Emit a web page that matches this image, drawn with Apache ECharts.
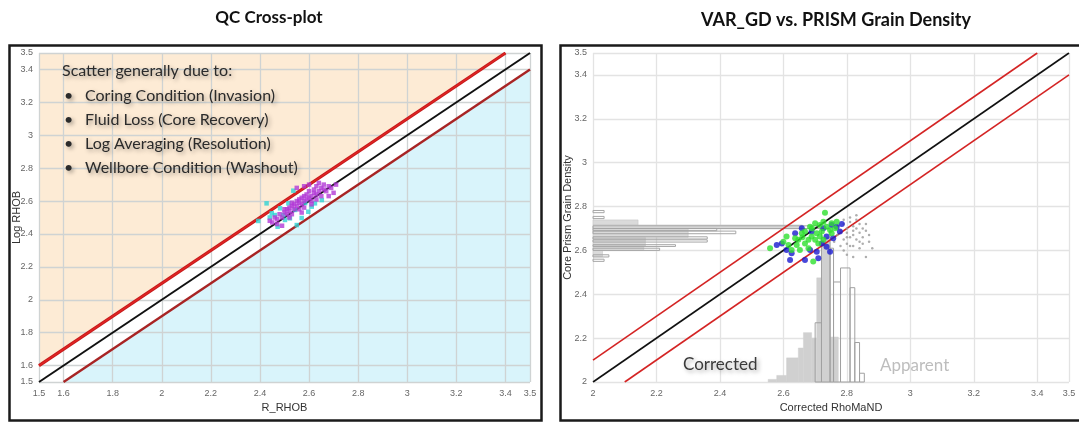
<!DOCTYPE html>
<html>
<head>
<meta charset="utf-8">
<script src="https://cdn.jsdelivr.net/npm/echarts@6/dist/echarts.min.js"></script>
<style>
html,body{margin:0;padding:0;background:#fff;}
#c{width:1079px;height:422px;}
</style>
</head>
<body>
<div id="c"></div>
<script>
// ---------- tick labels ----------
const leftTicks = [1.5, 1.6, 1.8, 2, 2.2, 2.4, 2.6, 2.8, 3, 3.2, 3.4, 3.5];
const rightTicks = [2, 2.2, 2.4, 2.6, 2.8, 3, 3.2, 3.4, 3.5];

// ---------- left panel: QC cross-plot ----------
const leftOneToOne = [[1.5, 1.5], [3.5, 3.5]];
const leftUpper = [[1.5, 1.6], [3.4, 3.5]];
const leftLower = [[1.6, 1.5], [3.5, 3.4]];
const peachZone = [[1.5, 1.6], [3.4, 3.5], [1.5, 3.5]];
const blueZone = [[1.6, 1.5], [3.5, 3.4], [3.5, 1.5]];

const cyanPts = [
  [2.427, 2.586], [2.536, 2.663], [2.393, 2.479], [2.472, 2.444], [2.584, 2.588],
  [2.624, 2.586], [2.652, 2.606], [2.522, 2.495], [2.57, 2.497], [2.495, 2.515],
  [2.461, 2.515], [2.55, 2.454], [2.482, 2.556], [2.516, 2.586], [2.543, 2.546],
  [2.448, 2.526], [2.597, 2.535], [2.502, 2.485], [2.611, 2.566], [2.44, 2.50]
];
const magentaPts = [
  [2.45, 2.47], [2.47, 2.49], [2.48, 2.52], [2.49, 2.50], [2.50, 2.53], [2.50, 2.55],
  [2.51, 2.52], [2.52, 2.56], [2.52, 2.54], [2.53, 2.57], [2.53, 2.52], [2.54, 2.58],
  [2.54, 2.55], [2.55, 2.60], [2.55, 2.57], [2.56, 2.59], [2.56, 2.61], [2.56, 2.55],
  [2.57, 2.62], [2.57, 2.58], [2.58, 2.60], [2.58, 2.63], [2.59, 2.61], [2.59, 2.64],
  [2.60, 2.62], [2.60, 2.66], [2.61, 2.63], [2.61, 2.60], [2.62, 2.65], [2.62, 2.67],
  [2.63, 2.64], [2.63, 2.69], [2.64, 2.66], [2.65, 2.68], [2.66, 2.70], [2.67, 2.66],
  [2.68, 2.69], [2.69, 2.68], [2.70, 2.65], [2.71, 2.70], [2.55, 2.68], [2.58, 2.69],
  [2.60, 2.70], [2.47, 2.46], [2.46, 2.50], [2.52, 2.50], [2.58, 2.56], [2.63, 2.61],
  [2.65, 2.63], [2.44, 2.48], [2.57, 2.53], [2.49, 2.45], [2.68, 2.63], [2.61, 2.58],
  [2.64, 2.71], [2.66, 2.67], [2.53, 2.59], [2.51, 2.55]
];

// ---------- right panel: VAR_GD vs PRISM ----------
const rightOneToOne = [[2, 2], [3.5, 3.5]];
const rightUpper = [[2, 2.1], [3.4, 3.5]];
const rightLower = [[2.1, 2], [3.5, 3.4]];

const greenPts = [
  [2.731, 2.772], [2.558, 2.610], [2.610, 2.663], [2.647, 2.648], [2.668, 2.686],
  [2.684, 2.708], [2.700, 2.724], [2.715, 2.716], [2.726, 2.731], [2.736, 2.708],
  [2.747, 2.693], [2.763, 2.701], [2.689, 2.663], [2.668, 2.632], [2.679, 2.610],
  [2.705, 2.678], [2.721, 2.686], [2.694, 2.549], [2.658, 2.678], [2.642, 2.625],
  [2.616, 2.625], [2.710, 2.632], [2.726, 2.648], [2.752, 2.724], [2.768, 2.731],
  [2.626, 2.602], [2.652, 2.602], [2.679, 2.648], [2.700, 2.648], [2.715, 2.663],
  [2.637, 2.655], [2.600, 2.640], [2.752, 2.678], [2.690, 2.700], [2.660, 2.660]
];
const bluePts = [
  [2.579, 2.625], [2.595, 2.632], [2.637, 2.678], [2.610, 2.602], [2.626, 2.587],
  [2.621, 2.556], [2.668, 2.556], [2.684, 2.602], [2.705, 2.594], [2.721, 2.632],
  [2.736, 2.663], [2.752, 2.716], [2.768, 2.708], [2.778, 2.686], [2.784, 2.720],
  [2.747, 2.594], [2.710, 2.564], [2.726, 2.701], [2.689, 2.686], [2.658, 2.701],
  [2.757, 2.655], [2.736, 2.617]
];
const grayPts = [
  [2.79, 2.72], [2.80, 2.70], [2.81, 2.73], [2.82, 2.71], [2.83, 2.74], [2.80, 2.68],
  [2.81, 2.66], [2.82, 2.69], [2.83, 2.70], [2.84, 2.72], [2.79, 2.65], [2.80, 2.63],
  [2.81, 2.62], [2.82, 2.67], [2.83, 2.65], [2.84, 2.68], [2.85, 2.70], [2.86, 2.69],
  [2.87, 2.64], [2.85, 2.66], [2.78, 2.69], [2.77, 2.67], [2.78, 2.62], [2.79, 2.60],
  [2.80, 2.58], [2.82, 2.57], [2.84, 2.61], [2.85, 2.63], [2.86, 2.72], [2.83, 2.76],
  [2.81, 2.75], [2.88, 2.61], [2.86, 2.57], [2.76, 2.64], [2.77, 2.71], [2.84, 2.64],
  [2.82, 2.62], [2.80, 2.66], [2.79, 2.74], [2.87, 2.67]
];

// horizontal histograms (y bins): [yLow, yHigh, xEnd]
const corrYHist = [
  [2.716, 2.739, 2.142], [2.698, 2.716, 2.66], [2.660, 2.698, 2.30], [2.620, 2.660, 2.165],
  [2.600, 2.620, 2.16], [2.572, 2.600, 2.03]
];
const appYHist = [
  [2.772, 2.782, 2.035], [2.745, 2.755, 2.035], [2.700, 2.712, 2.72], [2.690, 2.700, 2.39],
  [2.676, 2.688, 2.45], [2.652, 2.662, 2.36], [2.638, 2.648, 2.36], [2.618, 2.626, 2.26],
  [2.600, 2.610, 2.21], [2.570, 2.580, 2.05], [2.550, 2.560, 2.035]
];
// vertical histograms (x bins): [xLow, xHigh, yTop]
const corrXHist = [
  [2.552, 2.579, 2.012], [2.579, 2.610, 2.03], [2.610, 2.647, 2.11], [2.647, 2.663, 2.155],
  [2.663, 2.689, 2.225], [2.689, 2.705, 2.20], [2.705, 2.721, 2.475], [2.721, 2.747, 2.66],
  [2.747, 2.773, 2.205]
];
const appXHist = [
  [2.700, 2.720, 2.27], [2.720, 2.747, 2.70], [2.747, 2.758, 2.61], [2.758, 2.780, 2.456],
  [2.780, 2.810, 2.52], [2.810, 2.825, 2.43], [2.825, 2.840, 2.18], [2.840, 2.855, 2.04]
];

const chart = echarts.init(document.getElementById('c'), null, {renderer: 'canvas'});

const labelFont = {fontFamily: 'Liberation Sans', fontSize: 9, color: '#666'};
function valAxis(gridIndex, min, max, ticks, name, gap, splitColor, isY) {
  return {
    type: 'value', gridIndex, min, max,
    name, nameLocation: 'middle', nameGap: gap, nameMoveOverlap: false,
    nameTextStyle: {fontFamily: 'Liberation Sans', fontSize: 11, color: '#333'},
    axisLine: {show: false},
    axisTick: {show: false, customValues: ticks},
    axisLabel: Object.assign({customValues: ticks, margin: isY ? 6 : 7, showMinLabel: true, showMaxLabel: true}, labelFont),
    splitLine: {show: true, lineStyle: {color: splitColor, width: 1.3}}
  };
}

function polyRender(points, color) {
  return function (params, api) {
    return {
      type: 'polygon',
      shape: {points: points.map(p => api.coord(p))},
      style: {fill: color}
    };
  };
}
function hBarRender(params, api) {
  const lo = api.value(0), hi = api.value(1), v = api.value(2);
  const a = api.coord([2, hi]), b = api.coord([v, lo]);
  return {type: 'rect', shape: {x: a[0], y: a[1], width: b[0] - a[0], height: b[1] - a[1]}, style: api.style()};
}
function vBarRender(params, api) {
  const lo = api.value(0), hi = api.value(1), v = api.value(2);
  const a = api.coord([lo, v]), b = api.coord([hi, 2]);
  return {type: 'rect', shape: {x: a[0], y: a[1], width: b[0] - a[0], height: b[1] - a[1]}, style: api.style()};
}
function line(xi, data, color, width, z) {
  return {type: 'line', xAxisIndex: xi, yAxisIndex: xi, data, symbol: 'none', silent: true,
    lineStyle: {color, width}, z: z || 3, animation: false};
}

const bulletStyle = {
  fontFamily: 'Lato', fontSize: 16, fill: '#2b2b2b',
  textShadowColor: 'rgba(0,0,0,0.35)', textShadowBlur: 4, textShadowOffsetX: 2, textShadowOffsetY: 2
};
const titleStyle = {fontFamily: 'Lato', fontWeight: 'bold', fontSize: 17, fill: '#111',
  textAlign: 'center', textVerticalAlign: 'middle'};

chart.setOption({
  animation: false,
  backgroundColor: '#fff',
  grid: [
    {left: 39, top: 53, width: 491, height: 329},
    {left: 593, top: 53, width: 476, height: 329}
  ],
  xAxis: [
    valAxis(0, 1.5, 3.5, leftTicks, 'R_RHOB', 20, '#cfd3d3', false),
    valAxis(1, 2, 3.5, rightTicks, 'Corrected RhoMaND', 20, '#e3e3e3', false)
  ],
  yAxis: [
    valAxis(0, 1.5, 3.5, leftTicks, 'Log RHOB', 17, '#cfd3d3', true),
    valAxis(1, 2, 3.5, rightTicks, 'Core Prism Grain Density', 20, '#e3e3e3', true)
  ],
  series: [
    {type: 'custom', xAxisIndex: 0, yAxisIndex: 0, data: [[2, 2]], z: -1, silent: true,
      renderItem: polyRender(peachZone, '#fdebd5')},
    {type: 'custom', xAxisIndex: 0, yAxisIndex: 0, data: [[2, 2]], z: -1, silent: true,
      renderItem: polyRender(blueZone, '#d9f4fb')},
    line(0, leftOneToOne, '#111', 2),
    line(0, leftUpper, '#c41a1a', 3.2),
    line(0, leftUpper, '#e02424', 1.4, 4),
    line(0, leftLower, '#a82424', 2.4),
    {type: 'scatter', xAxisIndex: 0, yAxisIndex: 0, data: cyanPts, symbol: 'rect', symbolSize: 4.5,
      itemStyle: {color: '#2fd3d3'}, z: 5},
    {type: 'scatter', xAxisIndex: 0, yAxisIndex: 0, data: magentaPts, symbol: 'rect', symbolSize: 4.5,
      itemStyle: {color: '#b23ad6'}, z: 6},

    {type: 'custom', xAxisIndex: 1, yAxisIndex: 1, data: corrYHist, renderItem: hBarRender,
      encode: {x: 2, y: [0, 1]}, itemStyle: {color: '#dadada', borderColor: '#c8c8c8', borderWidth: 0.6}, z: 1, silent: true},
    {type: 'custom', xAxisIndex: 1, yAxisIndex: 1, data: appYHist, renderItem: hBarRender,
      encode: {x: 2, y: [0, 1]}, itemStyle: {color: 'rgba(0,0,0,0)', borderColor: '#a6a6a6', borderWidth: 1}, z: 2, silent: true},
    {type: 'custom', xAxisIndex: 1, yAxisIndex: 1, data: corrXHist, renderItem: vBarRender,
      encode: {x: [0, 1], y: 2}, itemStyle: {color: '#d0d0d0', borderColor: '#d0d0d0', borderWidth: 0.5}, z: 1, silent: true},
    {type: 'custom', xAxisIndex: 1, yAxisIndex: 1, data: appXHist, renderItem: vBarRender,
      encode: {x: [0, 1], y: 2}, itemStyle: {color: 'rgba(0,0,0,0)', borderColor: '#a0a0a0', borderWidth: 1}, z: 2, silent: true},
    line(1, rightOneToOne, '#111', 1.6),
    line(1, rightUpper, '#d42424', 1.6),
    line(1, rightLower, '#d42424', 1.6),
    {type: 'scatter', xAxisIndex: 1, yAxisIndex: 1, data: grayPts, symbolSize: 2.5,
      itemStyle: {color: '#9a9a9a'}, z: 5},
    {type: 'scatter', xAxisIndex: 1, yAxisIndex: 1, data: bluePts, symbolSize: 6,
      itemStyle: {color: '#1a1ad0'}, z: 6},
    {type: 'scatter', xAxisIndex: 1, yAxisIndex: 1, data: greenPts, symbolSize: 6,
      itemStyle: {color: '#2ee02e'}, z: 7}
  ],
  graphic: [
    {type: 'text', x: 269, y: 18, z: 50, style: Object.assign({text: 'QC Cross-plot'}, titleStyle)},
    {type: 'text', x: 836, y: 20, z: 50, style: Object.assign({text: 'VAR_GD vs. PRISM Grain Density'}, titleStyle, {fontSize: 18})},
    {type: 'rect', left: 7, top: 43, shape: {width: 532, height: 375},
      style: {fill: 'none', stroke: '#1a1a1a', lineWidth: 2.5}, z: 100, silent: true},
    {type: 'rect', left: 558, top: 43, shape: {width: 540, height: 375},
      style: {fill: 'none', stroke: '#1a1a1a', lineWidth: 2.5}, z: 100, silent: true},
    {type: 'text', left: 62, top: 63, z: 50, style: Object.assign({text: 'Scatter generally due to:'}, bulletStyle)},
    {type: 'text', left: 64, top: 88, z: 50, style: Object.assign({text: '•'}, bulletStyle)},
    {type: 'text', left: 85, top: 88, z: 50, style: Object.assign({text: 'Coring Condition (Invasion)'}, bulletStyle)},
    {type: 'text', left: 64, top: 112, z: 50, style: Object.assign({text: '•'}, bulletStyle)},
    {type: 'text', left: 85, top: 112, z: 50, style: Object.assign({text: 'Fluid Loss (Core Recovery)'}, bulletStyle)},
    {type: 'text', left: 64, top: 136, z: 50, style: Object.assign({text: '•'}, bulletStyle)},
    {type: 'text', left: 85, top: 136, z: 50, style: Object.assign({text: 'Log Averaging (Resolution)'}, bulletStyle)},
    {type: 'text', left: 64, top: 160, z: 50, style: Object.assign({text: '•'}, bulletStyle)},
    {type: 'text', left: 85, top: 160, z: 50, style: Object.assign({text: 'Wellbore Condition (Washout)'}, bulletStyle)},
    {type: 'text', left: 683, top: 356, z: 50, style: Object.assign({}, bulletStyle, {text: 'Corrected', fontSize: 17, fill: '#3a3a3a'})},
    {type: 'text', left: 880, top: 357, z: 50, style: {text: 'Apparent', fontFamily: 'Lato', fontSize: 17, fill: '#bdbdbd'}}
  ]
});
</script>
</body>
</html>
